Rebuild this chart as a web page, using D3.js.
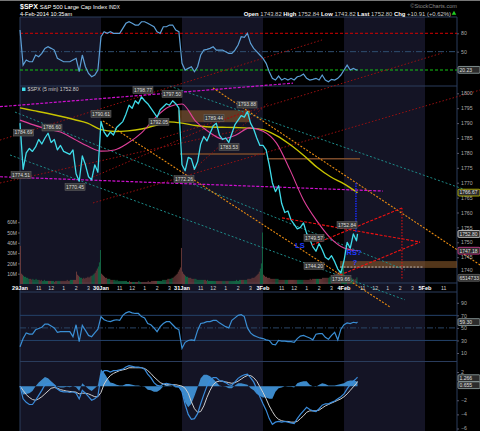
<!DOCTYPE html>
<html lang="en">
<head>
<meta charset="UTF-8">
<title>$SPX 5 min</title>
<script src="https://d3js.org/d3.v7.min.js"></script>
<style>
  body { margin: 0; background: #000; }
  svg { display: block; font-family: "Liberation Sans", Arial, sans-serif; }
</style>
</head>
<body>
<script>
// ---------- data ----------
var days = ['29Jan', '30Jan', '31Jan', '3Feb', '4Feb', '5Feb'];
var hourTicks = ['11', '12', '1', '2', '3'];
var hourBars = [18, 30, 42, 54, 66];
var barsPerDay = 78;

// close every 15 min (3 bars), 29 Jan .. 4 Feb 10:35
var price = [
  1790, 1774.5, 1780, 1781.5, 1780.5, 1782, 1784.5, 1783, 1785, 1786.6, 1783.5, 1784.5, 1781, 1782.5, 1780.5, 1780, 1779.5, 1781, 1773, 1770.5, 1779, 1776, 1772, 1771, 1776, 1773.5,
  1790.6, 1787, 1785.5, 1787, 1786, 1788.5, 1789.5, 1790.5, 1793, 1796, 1795, 1797.5, 1796.5, 1798.8, 1797.5, 1796.5, 1795, 1793.5, 1792, 1794.5, 1795.5, 1796.5, 1796, 1797.5, 1796.5, 1795,
  1776, 1774, 1778.5, 1778, 1774.5, 1777, 1783, 1785.5, 1784, 1786.5, 1789, 1790, 1786, 1784.5, 1785, 1783.5, 1786.5, 1789.5, 1791, 1792.5, 1792, 1793.9, 1790, 1788, 1785, 1782.5,
  1782.5, 1781, 1776, 1770, 1767, 1769, 1763, 1760, 1760.5, 1757.5, 1756, 1754.5, 1755, 1756.5, 1753, 1751, 1748.5, 1747, 1749.6, 1747.5, 1745, 1744.2, 1745.5, 1743.5, 1741, 1739.7,
  1743.8, 1750, 1748, 1752.8, 1750.5, 1752.8
];
var rsiTop = [
  85.3, 28.1, 36.3, 33.5, 33.5, 44.5, 41.7, 47.2, 55.4, 58, 55.4, 52.6, 39.1, 36.3, 33.5, 33.5, 33.5, 36.3, 39.1, 17.2, 44.5, 25.3, 14.4, 9, 11.8, 19.9,
  74.4, 82.6, 79.9, 82.6, 79.9, 79.9, 79.9, 88.1, 96.3, 98.9, 96.3, 93.5, 93.5, 98.9, 98.9, 96.3, 93.5, 90.7, 82.6, 79.9, 90.7, 90.7, 93.5, 93.5, 85.3, 82.6,
  30.9, 19.9, 22.7, 25.3, 17.2, 25.3, 44.5, 52.6, 53.8, 55.4, 58, 52.6, 52.6, 52.6, 49.9, 47.2, 47.2, 52.6, 60.8, 74.4, 73.4, 79.9, 63.6, 55.4, 49.9, 44.5,
  39.1, 30.9, 17.2, 6.4, 3.6, 10.1, 3.6, 6.4, 3.6, 6.4, 3.6, 9, 10.1, 13.4, 6.4, 3.6, 4.7, 6.4, 3.6, 11.8, 3.6, 0.8, 4.7, 3.6, 6.4, 11.8,
  20, 28, 20, 22.7, 20, 20.23
];
var rsiLow = [
  20, 33, 42, 40, 40, 47, 49, 51, 56, 56, 53, 50, 43, 44, 44, 44, 44, 36, 55, 28, 54, 46, 38, 36, 42, 48,
  68, 63, 61, 60, 62, 63, 62, 70, 74, 76, 74, 73, 73, 68, 66, 57, 55, 50, 44, 52, 57, 60, 60, 55, 50, 47,
  17.5, 27, 30, 31, 30, 46, 57, 58, 60, 60, 62, 62, 58, 55, 52, 50, 62, 66, 70, 71, 68, 50, 42, 38, 36, 34,
  33, 31, 30, 24, 23, 30, 29, 29, 28, 28, 27, 33, 37, 38, 36, 34, 31, 40, 41, 41, 35, 32, 38, 43, 31, 48,
  55, 58, 57, 59, 58, 59.3
];
var macd = [
  0, -1.8, -2.3, -2.6, -2.6, -2, -1.3, -0.6, 0.2, 0.4, 0.4, 0.1, -0.4, -0.7, -0.8, -0.8, -0.9, -0.8, -1, -1.8, -0.6, -1, -1.5, -2, -1.8, -1.4,
  1.5, 2.2, 2.2, 2, 2.2, 2.2, 2.3, 2.4, 2.7, 2.9, 2.8, 2.7, 2.7, 2.6, 2.4, 1.7, 1.2, 0.5, 0.1, 0, 0.3, 0.4, 0.3, 0.2, 0, -0.1,
  -0.8, -2.6, -4, -4.7, -4.6, -3.9, -2.5, -1.2, 0, 0.8, 1.2, 1.2, 0.8, 0.7, 0.5, 0.2, 0.1, 0.6, 1.1, 1.4, 1.6, 1.7, 1.2, 0.6, -0.4, -1.5,
  -2.5, -3.4, -4.6, -5.4, -5.1, -5, -5.1, -5, -5.1, -5.2, -5.3, -4.6, -4, -3.5, -3, -3.3, -3.5, -3.6, -3.2, -2.7, -2.5, -2.5, -2.3, -2.1, -1.8, -1.5,
  -1.1, -0.4, 0.2, 0.7, 1.1, 1.266
];
var signal = [
  0, -0.6, -1.2, -1.6, -1.9, -2, -1.8, -1.5, -1.1, -0.7, -0.3, -0.2, -0.3, -0.5, -0.6, -0.7, -0.75, -0.8, -0.85, -1.1, -1, -1, -1.1, -1.3, -1.5, -1.5,
  -0.9, 0.3, 1, 1.5, 1.8, 2, 2.2, 2.3, 2.4, 2.6, 2.6, 2.6, 2.6, 2.6, 2.5, 2.2, 1.8, 1.3, 0.9, 0.5, 0.3, 0.2, 0.2, 0.2, 0.2, 0.1,
  0, -0.3, -1, -2.2, -3.2, -3.7, -3.6, -2.8, -1.6, -0.6, 0.2, 0.6, 0.7, 0.7, 0.6, 0.5, 0.4, 0.5, 0.7, 1, 1.3, 1.5, 1.5, 1.2, 0.7, -0.1,
  -0.9, -1.8, -2.8, -3.6, -4.3, -4.7, -4.9, -5, -5, -5.1, -5.1, -5, -4.6, -4.2, -3.7, -3.5, -3.5, -3.5, -3.4, -3.1, -2.8, -2.6, -2.4, -2.2, -2, -1.8,
  -1.5, -1.1, -0.6, -0.1, 0.4, 0.655
];

// volume per 5-min bar, millions
var vol29 = [37,10,9,8,7,7,6,6,5,5, 5,4,5,4,4,5,4,4,4,3, 4,3,3,4,3,3,3,3,3,3, 3,3,3,2,3,3,3,3,3,3,
             3,3,3,3,3,4,3,3,4,4, 4,4,4,4,12,9,8,7,6,6, 5,6,5,6,6,7,6,7,8,8, 9,10,11,13,15,17,21,33];
var vol30 = [10,9,8,7,6,6,5,5,5,4, 4,4,4,4,3,4,3,3,3,3, 3,3,3,3,3,2,2,3,2,2, 2,2,2,2,2,2,3,2,2,2,
             2,2,2,2,2,3,2,2,3,3, 3,3,3,3,3,3,3,3,3,4, 4,4,4,4,5,5,5,5,6,6, 7,8,9,10,12,14,16,35];
var vol31 = [12,10,9,8,7,7,6,6,6,5, 5,5,5,5,4,4,4,4,4,4, 4,4,4,3,4,3,3,3,3,3, 3,3,3,3,3,3,3,3,3,3,
             3,3,3,3,3,3,3,3,3,3, 3,3,4,3,3,4,4,4,4,4, 4,4,4,5,5,5,5,6,6,6, 7,8,9,10,12,15,20,50];
var vol03 = [9,8,7,7,6,6,6,5,5,5, 5,5,5,5,5,4,4,4,4,4, 4,4,4,4,4,4,4,4,4,4, 4,4,4,4,4,4,4,4,4,4,
             4,4,4,4,4,5,4,5,5,5, 5,5,5,5,5,5,5,6,6,6, 6,6,6,6,7,7,8,8,9,10, 10,11,12,12,13,15,18,20];
var vol04 = [9,7,6,6,5,5,5,6,5,5,4,5,6.5];

// moving averages every 13 bars
var maBars = [0,13,26,39,52,65,78,91,104,117,130,143,156,169,182,195,208,221,234,247,260,273,286,299,312,325];
var maSlow = [1795.1,1794.2,1793.3,1792.3,1791.2,1790,1787.8,1787.2,1787.4,1788,1789.2,1790.4,1790,1789.2,1788.7,1788.6,1788.5,1788.3,1787.8,1785.8,1782.8,1779.2,1775.2,1772,1769.6,1766.67];
var maFast = [1791,1789.4,1788,1787,1784.7,1782.3,1780.6,1781,1783.3,1786.7,1791.7,1795.4,1796.4,1790.7,1787,1784.7,1786,1788.4,1787.3,1783.3,1774.3,1764.2,1757.1,1751.4,1748.1,1747.18];

// drawn annotations: [bar1, price1, bar2, price2]
var magentaLines = [[-19.3, 1795.5, 262.9, 1803.4], [-19.3, 1772.0, 349.5, 1767.2]];
var darkRedLines = [[-19.3, 1784.3, 290.8, 1817.9], [134.8, 1784.8, 406.4, 1813.5], [70.3, 1771.9, 221.5, 1794.7],
                    [-19.3, 1769.9, 221.5, 1788.4], [70.3, 1763.2, 443, 1801.1], [166.6, 1774.3, 238.8, 1796.7]];
var orangeLines = [[79.9, 1790.7, 356.3, 1728.3], [185.8, 1801.8, 443, 1742.4]];
var tealLines = [[-4.8, 1793.7, 370.7, 1740.7], [-9.6, 1779.3, 370.7, 1730.7], [144.4, 1802.4, 443, 1765.9]];
var redLines = [[252.3, 1758.2, 385.2, 1750.1], [281.2, 1749.1, 367.8, 1761.5], [308.1, 1739.0, 385.2, 1750.1], [367.8, 1761.5, 367.8, 1737.3]];
var blueLines = [[323.5, 1769.9, 323.5, 1753.5]];
// bands: [bar1, bar2, priceLow, priceHigh]
var bands = [[152.1, 221.5, 1790.3, 1794.3], [308.1, 420.8, 1741.4, 1743.7]];
var brownLines = [[154.1, 1779.6, 235.9, 1779.6], [237.8, 1778.0, 327.4, 1778.0]];
var whiteDash = [[308.1, 1741.7, 388.1, 1741.7]];
var noteText = ['LS', 'RS?', '?'];
var noteBar = [269.6, 321.6, 322.6];
var notePrice = [1749.1, 1746.7, 1743.4];

var pivotText = ['1784.69','1786.60','1774.51','1770.45','1790.61','1798.77','1797.50','1792.05','1772.26','1793.88','1789.44','1783.53','1749.57','1744.20','1739.66','1752.84'];
var pivotBar = [3.4, 30.8, 1, 53, 78, 118.4, 146.4, 133.8, 157.9, 218.6, 186.8, 201.3, 283.1, 283.1, 309.1, 314.9];
var pivotPrice = [1786.8, 1788.5, 1772.6, 1768.6, 1793.1, 1801.1, 1799.8, 1790.4, 1771.2, 1796.2, 1791.7, 1782.0, 1751.5, 1742.0, 1737.7, 1755.8];

// ---------- layout ----------
var W = 480, H = 431, L = 20, R = 457;
var sampleBars = [];
for (var d = 0; d < 4; d++) for (var k = 0; k < 26; k++) sampleBars.push(d * barsPerDay + k * 3);
[312, 315, 318, 321, 324, 325].forEach(function (b) { sampleBars.push(b); });
var volume = [].concat(vol29, vol30, vol31, vol03, vol04);

var x = d3.scaleLinear().domain([0, 420.8]).range([L, R]);
var yP = d3.scaleLinear().domain([1740, 1800]).range([272.1, 93.3]);
var yV = d3.scaleLinear().domain([0, 60]).range([284, 222.2]);
var yR1 = d3.scaleLinear().domain([20, 80]).range([70, 33.3]);
var yR2 = d3.scaleLinear().domain([10, 90]).range([353, 302.8]);
var yM = d3.scaleLinear().domain([-6, 2]).range([428.5, 372]);

var svg = d3.select('body').append('svg').attr('width', W).attr('height', H);
svg.append('rect').attr('width', W).attr('height', H).attr('fill', '#000');
svg.append('line').attr('x1', 0).attr('x2', W).attr('y1', 0.5).attr('y2', 0.5).attr('stroke', '#777');

// alternating day shading
days.forEach(function (dname, i) {
  if (i % 2) return;
  var b0 = i * barsPerDay, b1 = Math.min((i + 1) * barsPerDay, 420.8);
  svg.append('rect').attr('x', x(b0)).attr('y', 17).attr('width', x(b1) - x(b0)).attr('height', H - 17)
    .attr('fill', '#141425');
});

// panel frames
var border = '#2a3c5c';
[17, 86, 283, 292, 361.5].forEach(function (yy) {
  svg.append('line').attr('x1', L).attr('x2', R).attr('y1', yy).attr('y2', yy).attr('stroke', border);
});
[L, R].forEach(function (xx) {
  svg.append('line').attr('x1', xx).attr('x2', xx).attr('y1', 17).attr('y2', H).attr('stroke', border);
});

function hline(scale, v, color, dash) {
  svg.append('line').attr('x1', L).attr('x2', R).attr('y1', scale(v)).attr('y2', scale(v))
    .attr('stroke', color).attr('stroke-dasharray', dash || null);
}
function seriesLine(vals, scale) {
  return d3.line().x(function (v, i) { return x(sampleBars[i]); }).y(function (v) { return scale(v); })(vals);
}

// ---------- top panel ----------
hline(yR1, 80, '#d40000', '3,2');
hline(yR1, 50, '#2f4f70', '6,2,1,2');
hline(yR1, 20, '#12c412', '3,2');

// ---------- main panel: volume ----------
svg.append('g').selectAll('rect').data(volume).enter().append('rect')
  .attr('x', function (v, i) { return x(i); })
  .attr('width', 0.9)
  .attr('y', function (v) { return yV(v); })
  .attr('height', function (v) { return yV(0) - yV(v); })
  .attr('fill', function (v, i) {
    var k = Math.min(Math.floor(i / 3), price.length - 2);
    return price[k + 1] >= price[k] ? '#146e46' : '#6e3c3c';
  });

// bands and horizontal resistance lines
bands.forEach(function (b) {
  svg.append('rect').attr('x', x(b[0])).attr('width', x(b[1]) - x(b[0]))
    .attr('y', yP(b[3])).attr('height', yP(b[2]) - yP(b[3]))
    .attr('fill', '#8a5a2c').attr('fill-opacity', 0.6);
});
function segs(list, color, dash, width) {
  list.forEach(function (s) {
    svg.append('line').attr('x1', x(s[0])).attr('y1', yP(s[1])).attr('x2', x(s[2])).attr('y2', yP(s[3]))
      .attr('stroke', color).attr('stroke-width', width || 1).attr('stroke-dasharray', dash || null);
  });
}
segs(brownLines, '#7a4a2a', null, 1.5);
segs(whiteDash, '#cccccc', '2,1.5', 0.8);
segs(tealLines, '#1d8a88', '2,2', 1);
segs(darkRedLines, '#9a1010', '1.5,2', 1);
segs(orangeLines, '#e88a10', '2,1.5', 1.1);
segs(magentaLines, '#d010d0', '3,1.5', 1.2);

// moving averages
var maLine = function (vals) {
  return d3.line().curve(d3.curveMonotoneX)
    .x(function (v, i) { return x(maBars[i]); }).y(function (v) { return yP(v); })(vals);
};
svg.append('path').attr('d', maLine(maSlow)).attr('fill', 'none').attr('stroke', '#c8c400').attr('stroke-width', 1.4);
svg.append('path').attr('d', maLine(maFast)).attr('fill', 'none').attr('stroke', '#e0409a').attr('stroke-width', 1.1);

// price
svg.append('path').attr('d', seriesLine(price, yP)).attr('fill', 'none')
  .attr('stroke', '#3fdcea').attr('stroke-width', 1.3).attr('stroke-linejoin', 'round');

segs(redLines.slice(0, 3), '#ee1111', '3,1.5', 1.1);
segs(redLines.slice(3), '#ee1111', '1.5,1.5', 1);
segs(blueLines, '#1a2cff', '1.5,1', 1.4);

noteText.forEach(function (t, i) {
  svg.append('text').attr('x', x(noteBar[i])).attr('y', yP(notePrice[i]) + 3).attr('text-anchor', 'middle')
    .attr('font-size', 7.5).attr('font-weight', 'bold').attr('fill', '#1f3cff').text(t);
});

// pivot labels
pivotText.forEach(function (t, i) {
  var cx = x(pivotBar[i]), cy = yP(pivotPrice[i]);
  svg.append('rect').attr('x', cx - 10).attr('y', cy - 3.4).attr('width', 20).attr('height', 6.8)
    .attr('fill', '#3a3a3a').attr('stroke', '#6c6c6c').attr('stroke-width', 0.5);
  svg.append('text').attr('x', cx).attr('y', cy + 1.8).attr('text-anchor', 'middle')
    .attr('font-size', 5).attr('fill', '#dcdcdc').text(t);
});

// legend
svg.append('rect').attr('x', 22).attr('y', 87.5).attr('width', 3.5).attr('height', 3.5).attr('fill', '#3fdcea');
svg.append('text').attr('x', 27.5).attr('y', 91.3).attr('font-size', 5.2).attr('fill', '#cccccc')
  .text('$SPX (5 min) ' + price[price.length - 1].toFixed(2));

// ---------- top panel line (drawn over annotations) ----------
svg.append('path').attr('d', seriesLine(rsiTop, yR1)).attr('fill', 'none')
  .attr('stroke', '#5d9fd6').attr('stroke-width', 1.2);

// ---------- lower RSI panel ----------
hline(yR2, 70, '#24426a');
hline(yR2, 50, '#2a4566', '6,2,1,2');
hline(yR2, 30, '#24426a');
svg.append('path').attr('d', seriesLine(rsiLow, yR2)).attr('fill', 'none')
  .attr('stroke', '#3a8ed4').attr('stroke-width', 1.2);

// ---------- MACD panel ----------
var hist = macd.map(function (v, i) { return v - signal[i]; });
svg.append('path').attr('d', d3.area()
    .x(function (v, i) { return x(sampleBars[i]); })
    .y0(yM(0)).y1(function (v) { return yM(v); })(hist))
  .attr('fill', '#3f90d4').attr('fill-opacity', 0.95);
svg.append('path').attr('d', seriesLine(signal, yM)).attr('fill', 'none').attr('stroke', '#cfcfcf').attr('stroke-width', 1);
svg.append('path').attr('d', seriesLine(macd, yM)).attr('fill', 'none').attr('stroke', '#3a8cdc').attr('stroke-width', 1.2);

// ---------- x axis strip ----------
days.forEach(function (dname, i) {
  var b0 = i * barsPerDay;
  svg.append('text').attr('x', x(b0)).attr('y', 290).attr('text-anchor', 'middle')
    .attr('font-size', 5.6).attr('font-weight', 'bold').attr('fill', '#ffffff').text(dname);
  hourTicks.forEach(function (h, j) {
    var b = b0 + hourBars[j];
    if (b > 418) return;
    svg.append('text').attr('x', x(b)).attr('y', 290).attr('text-anchor', 'middle')
      .attr('font-size', 5.2).attr('fill', '#cfcfcf').text(h);
  });
});

// ---------- axes ----------
function rightAxis(scale, vals, fmt) {
  var g = svg.append('g').attr('transform', 'translate(' + R + ',0)')
    .call(d3.axisRight(scale).tickValues(vals).tickSize(2).tickPadding(2).tickFormat(fmt || d3.format('d')));
  g.select('.domain').remove();
  g.selectAll('line').attr('stroke', '#556');
  g.selectAll('text').attr('fill', '#aaaaaa').attr('font-size', 5.2).attr('font-family', '"Liberation Sans", Arial, sans-serif');
  return g;
}
rightAxis(yR1, [80, 50]);
rightAxis(yP, d3.range(1745, 1801, 5));
rightAxis(yR2, [10, 30, 50, 70, 90]);
rightAxis(yM, [-6, -4, -2, 2]).selectAll('text').attr('dy', '0.2em');

var vAxis = svg.append('g').attr('transform', 'translate(' + L + ',0)')
  .call(d3.axisLeft(yV).tickValues([10, 20, 30, 40, 50, 60]).tickSize(2).tickPadding(1)
    .tickFormat(function (d) { return d + 'M'; }));
vAxis.select('.domain').remove();
vAxis.selectAll('line').attr('stroke', '#556');
vAxis.selectAll('text').attr('fill', '#bbbbbb').attr('font-size', 5).attr('font-family', '"Liberation Sans", Arial, sans-serif');

// value boxes on right edge
function valueBox(yy, txt, edge) {
  svg.append('rect').attr('x', R + 1).attr('y', yy - 3.4).attr('width', 22).attr('height', 6.8)
    .attr('rx', 1).attr('fill', '#2c2c2c').attr('stroke', edge).attr('stroke-width', 0.8);
  svg.append('text').attr('x', R + 2.5).attr('y', yy + 1.8).attr('font-size', 5).attr('fill', '#e0e0e0').text(txt);
}
valueBox(yR1(rsiTop[rsiTop.length - 1]), rsiTop[rsiTop.length - 1].toFixed(2), '#9aa');
valueBox(yP(maSlow[maSlow.length - 1]), maSlow[maSlow.length - 1].toFixed(2), '#c8c400');
valueBox(yP(price[price.length - 1]), price[price.length - 1].toFixed(2), '#e8e8e8');
valueBox(yP(maFast[maFast.length - 1]), maFast[maFast.length - 1].toFixed(2), '#e0409a');
// 1740 sits just above the volume box
svg.append('text').attr('x', R + 4).attr('y', yP(1740) - 0.5).attr('font-size', 5.2).attr('fill', '#aaaaaa').text('1740');
valueBox(yV(vol04[vol04.length - 1]) + 0.5, '6514733', '#666');
valueBox(yR2(rsiLow[rsiLow.length - 1]), rsiLow[rsiLow.length - 1].toFixed(2), '#9aa');
valueBox(yM(macd[macd.length - 1]) + 1, macd[macd.length - 1].toFixed(3), '#9aa');
valueBox(yM(macd[macd.length - 1]) + 8, signal[signal.length - 1].toFixed(3), '#9aa');

// ---------- header ----------
var head = svg.append('text').attr('x', 20).attr('y', 8.8).attr('fill', '#ffffff');
head.append('tspan').attr('font-size', 7).attr('font-weight', 'bold').text('$SPX ');
head.append('tspan').attr('font-size', 5.8).text('S&P 500 Large Cap Index ');
head.append('tspan').attr('font-size', 4.6).text('INDX');
svg.append('text').attr('x', 20).attr('y', 15.5).attr('font-size', 5.6).attr('fill', '#ffffff').text('4-Feb-2014 10:35am');

svg.append('text').attr('x', 457).attr('y', 8.3).attr('text-anchor', 'end').attr('font-size', 5.6)
  .attr('fill', '#8a8a8a').text('\u00a9StockCharts.com');

var quote = [['Open', '1743.82'], ['High', '1752.84'], ['Low', '1743.82'], ['Last', '1752.80'], ['Chg', '+10.91 (+0.62%)']];
var qt = svg.append('text').attr('x', 451).attr('y', 15.5).attr('text-anchor', 'end').attr('font-size', 5.9);
quote.forEach(function (q, i) {
  qt.append('tspan').attr('font-weight', 'bold').attr('fill', '#ffffff').text((i ? '  ' : '') + q[0] + ' ');
  qt.append('tspan').attr('fill', '#cfcfcf').text(q[1]);
});
svg.append('path').attr('d', d3.symbol().type(d3.symbolTriangle).size(9)())
  .attr('transform', 'translate(454,13.4)').attr('fill', '#1fd01f');
</script>
</body>
</html>
